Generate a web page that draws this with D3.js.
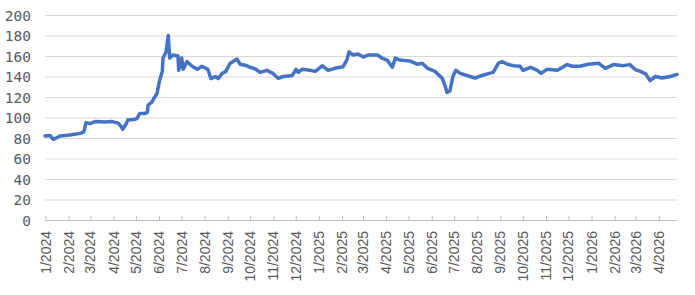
<!DOCTYPE html>
<html>
<head>
<meta charset="utf-8">
<script src="https://cdn.jsdelivr.net/npm/d3@7"></script>
<style>
  html, body { margin: 0; padding: 0; background: #fff; }
  svg { display: block; }
</style>
</head>
<body>
<svg id="chart" width="695" height="295"></svg>
<script>
// ---- data ----
const dates = [
  "2024-01-01","2024-01-08","2024-01-12","2024-01-16","2024-01-21","2024-02-03","2024-02-17","2024-02-22","2024-02-25",
  "2024-03-01","2024-03-08","2024-03-21","2024-03-31","2024-04-08","2024-04-12","2024-04-14","2024-04-18","2024-04-21",
  "2024-04-29","2024-05-03","2024-05-07","2024-05-14","2024-05-17","2024-05-18","2024-05-23","2024-05-27","2024-05-30",
  "2024-06-02","2024-06-06","2024-06-07","2024-06-11","2024-06-14","2024-06-16","2024-06-20","2024-06-27","2024-06-28",
  "2024-07-02","2024-07-04","2024-07-09","2024-07-16","2024-07-23","2024-07-29","2024-08-06","2024-08-10","2024-08-16",
  "2024-08-20","2024-08-25","2024-08-30","2024-09-05","2024-09-14","2024-09-18","2024-09-25","2024-10-02","2024-10-08",
  "2024-10-15","2024-10-24","2024-11-01","2024-11-08","2024-11-15","2024-11-27","2024-12-02","2024-12-05","2024-12-10",
  "2024-12-21","2024-12-28","2025-01-06","2025-01-14","2025-01-23","2025-02-03","2025-02-08","2025-02-11","2025-02-16",
  "2025-02-23","2025-03-02","2025-03-09","2025-03-21","2025-03-27","2025-04-03","2025-04-10","2025-04-14","2025-04-20",
  "2025-05-04","2025-05-13","2025-05-20","2025-05-27","2025-06-06","2025-06-16","2025-06-20","2025-06-22","2025-06-26",
  "2025-06-30","2025-07-04","2025-07-10","2025-07-23","2025-07-30","2025-08-06","2025-08-15","2025-08-23","2025-08-30",
  "2025-09-04","2025-09-11","2025-09-19","2025-09-28","2025-10-02","2025-10-12","2025-10-21","2025-10-26","2025-11-03",
  "2025-11-17","2025-11-30","2025-12-07","2025-12-17","2025-12-28","2026-01-11","2026-01-20","2026-01-31","2026-02-13",
  "2026-02-22","2026-03-01","2026-03-08","2026-03-15","2026-03-21","2026-03-28","2026-04-06","2026-04-17","2026-04-26"
];
const values = [
  82, 82.5, 78.5, 80, 82, 83, 84.5, 86, 95,
  94, 96, 95.5, 96, 94.5, 91, 88.5, 93, 97.5,
  98, 99, 104, 104, 105, 112, 115, 120, 123.6,
  135, 145, 158, 164, 180, 158, 161, 160, 146,
  158, 147, 154.5, 150, 147, 150, 147, 138, 140,
  138, 143, 145, 153, 157, 152, 151, 149, 147.5,
  144, 146, 143, 138.2, 140, 141, 147, 144, 147,
  146, 145, 150.5, 146, 148, 149.6, 156, 164, 161,
  162, 159, 161, 161, 158, 156, 149, 158, 156,
  155, 152, 153, 148, 145, 138, 130, 124.5, 126,
  140, 146, 143, 140, 138.5, 140.5, 142.6, 144, 153,
  154.5, 152, 150.6, 150, 146, 149, 146, 143, 147,
  146, 151.6, 150, 150, 152, 153, 148, 151.6, 150.6,
  151.6, 146.8, 145, 142.6, 136, 140, 138.5, 140, 142
];
const yTicks = [0, 20, 40, 60, 80, 100, 120, 140, 160, 180, 200];
const monthTicks = [
  "2024-01-01","2024-02-01","2024-03-01","2024-04-01","2024-05-01","2024-06-01","2024-07-01","2024-08-01","2024-09-01",
  "2024-10-01","2024-11-01","2024-12-01","2025-01-01","2025-02-01","2025-03-01","2025-04-01","2025-05-01","2025-06-01",
  "2025-07-01","2025-08-01","2025-09-01","2025-10-01","2025-11-01","2025-12-01","2026-01-01","2026-02-01","2026-03-01",
  "2026-04-01"
];

// ---- drawing ----
(function () {
  const parse = d3.utcParse("%Y-%m-%d");
  const data = dates.map((d, i) => ({ date: parse(d), value: values[i] }));
  const tickDates = monthTicks.map(parse);

  const svg = d3.select("#chart");
  const mLeft = 45, mRight = 677, mTop = 15, mBottom = 220;

  const x = d3.scaleUtc()
    .domain([parse(dates[0]), parse(dates[dates.length - 1])])
    .range([mLeft, mRight]);
  const y = d3.scaleLinear().domain([0, 200]).range([mBottom, mTop]);

  // gridlines
  svg.append("g")
    .selectAll("line")
    .data(yTicks.filter(t => t !== 0))
    .join("line")
    .attr("x1", mLeft).attr("x2", mRight)
    .attr("y1", d => y(d) + 0.5).attr("y2", d => y(d) + 0.5)
    .attr("stroke", "#d9d9d9").attr("stroke-width", 1);

  // y axis labels
  const yAxis = d3.axisLeft(y).tickValues(yTicks).tickSize(0).tickPadding(0);
  const gy = svg.append("g").attr("transform", "translate(31,0)").call(yAxis);
  gy.select(".domain").remove();
  gy.selectAll("text")
    .attr("font-family", "'DejaVu Sans Mono', monospace")
    .attr("font-size", "14.5px")
    .attr("fill", "#595959")
    .attr("dy", "0.36em");

  // x axis
  const xAxis = d3.axisBottom(x)
    .tickValues(tickDates)
    .tickSize(0)
    .tickFormat(d => `${d.getUTCMonth() + 1}/${d.getUTCFullYear()}`);
  const gx = svg.append("g").attr("transform", `translate(0,${mBottom})`).call(xAxis);
  gx.select(".domain").attr("stroke", "#bfbfbf").attr("d", `M${mLeft},0.5H${mRight}`);
  gx.selectAll(".tick").append("line")
    .attr("y1", 0).attr("y2", -4)
    .attr("x1", 0.5).attr("x2", 0.5)
    .attr("stroke", "#bfbfbf");
  gx.selectAll(".tick text")
    .attr("font-family", "'Liberation Sans', Arial, sans-serif")
    .attr("font-size", "14px")
    .attr("fill", "#595959")
    .attr("text-anchor", "end")
    .attr("transform", "rotate(-90)")
    .attr("x", -11)
    .attr("y", 0)
    .attr("dy", "0.36em");

  // line
  const line = d3.line()
    .x(d => x(d.date))
    .y(d => y(d.value));
  svg.append("path")
    .datum(data)
    .attr("fill", "none")
    .attr("stroke", "#4472C4")
    .attr("stroke-width", 3.5)
    .attr("stroke-linejoin", "round")
    .attr("stroke-linecap", "round")
    .attr("d", line);
})();
</script>
</body>
</html>
